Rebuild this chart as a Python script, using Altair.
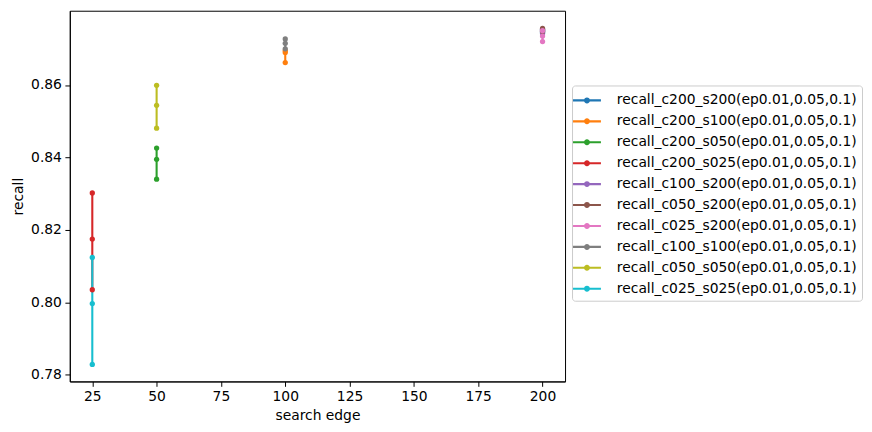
import altair as alt
import pandas as pd

series = [
    "recall_c200_s200(ep0.01,0.05,0.1)",
    "recall_c200_s100(ep0.01,0.05,0.1)",
    "recall_c200_s050(ep0.01,0.05,0.1)",
    "recall_c200_s025(ep0.01,0.05,0.1)",
    "recall_c100_s200(ep0.01,0.05,0.1)",
    "recall_c050_s200(ep0.01,0.05,0.1)",
    "recall_c025_s200(ep0.01,0.05,0.1)",
    "recall_c100_s100(ep0.01,0.05,0.1)",
    "recall_c050_s050(ep0.01,0.05,0.1)",
    "recall_c025_s025(ep0.01,0.05,0.1)",
]
search_edge = [200, 100, 50, 25, 200, 200, 200, 100, 50, 25]
recall_ep001 = [0.8745, 0.8662, 0.8340, 0.8035, 0.8742, 0.8748, 0.8720, 0.8700, 0.8481, 0.7829]
recall_ep005 = [0.8750, 0.8690, 0.8395, 0.8175, 0.8748, 0.8752, 0.8735, 0.8715, 0.8544, 0.7997]
recall_ep01 = [0.8753, 0.8695, 0.8426, 0.8302, 0.8752, 0.8756, 0.8750, 0.8727, 0.8599, 0.8124]
colors = ["#1f77b4", "#ff7f0e", "#2ca02c", "#d62728", "#9467bd",
          "#8c564b", "#e377c2", "#7f7f7f", "#bcbd22", "#17becf"]

rows = []
for i, name in enumerate(series):
    for j, vals in enumerate([recall_ep001, recall_ep005, recall_ep01]):
        rows.append({"series": name, "idx": i, "k": j,
                     "search edge": search_edge[i], "recall": vals[i]})
df = pd.DataFrame(rows)

FONT = "DejaVu Sans"
color = alt.Color("series:N", scale=alt.Scale(domain=series, range=colors),
                  sort=series, title=None)
x = alt.X("search edge:Q", scale=alt.Scale(domain=[16.25, 208.75], nice=False, zero=False),
          axis=alt.Axis(values=[25, 50, 75, 100, 125, 150, 175, 200], format="d"))
y = alt.Y("recall:Q", scale=alt.Scale(domain=[0.7782, 0.8805], nice=False, zero=False),
          axis=alt.Axis(values=[0.78, 0.80, 0.82, 0.84, 0.86], format=".2f"))

base = alt.Chart(df)
lines = base.mark_line(strokeWidth=2.1).encode(x=x, y=y, color=color, detail="series:N",
                                              order="k:Q")
pts = base.mark_point(filled=True, size=28, opacity=1).encode(x=x, y=y, color=color)

sym = ("M-1.4,-0.105L1.4,-0.105L1.4,0.105L-1.4,0.105Z"
       "M-0.3,0A0.3,0.3 0 1,1 0.3,0A0.3,0.3 0 1,1 -0.3,0Z")

chart = alt.layer(lines, pts).properties(
    width=497, height=372,
    autosize=alt.AutoSizeParams(type="none"),
    padding={"left": 62, "top": 2, "right": 300, "bottom": 46},
).configure_view(stroke="black", strokeWidth=1).configure_axis(
    labelFont=FONT, titleFont=FONT, labelFontSize=13.9, titleFontSize=13.9,
    labelColor="black", titleColor="black", titleFontWeight="normal",
    domainColor="black", tickColor="black", tickSize=4.9, labelPadding=3.5,
    grid=False,
).configure_axisX(titlePadding=5).configure_axisY(titlePadding=5).configure_legend(
    orient="none", legendX=504, legendY=75,
    labelFont=FONT, labelFontSize=13.9, labelColor="black",
    symbolType=sym, symbolSize=400, symbolStrokeWidth=0, symbolOpacity=1,
    strokeColor="#cccccc", fillColor="white", cornerRadius=3, padding=5,
    labelOffset=20, rowPadding=4, labelLimit=400,
)

chart.save("out.html", embed_options={"renderer": "svg", "actions": False})
